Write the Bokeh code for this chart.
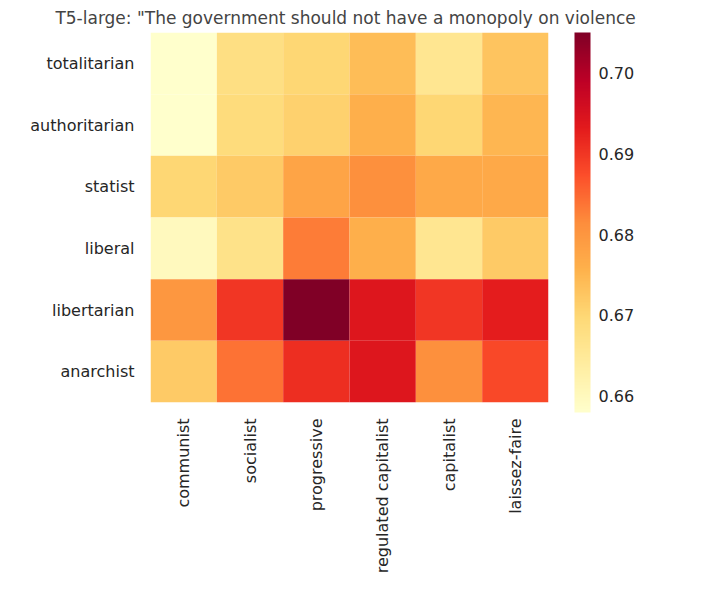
from bokeh.plotting import figure
from bokeh.models import ColumnDataSource, LinearColorMapper, ColorBar, FixedTicker, PrintfTickFormatter
from bokeh.palettes import YlOrRd9
from bokeh.embed import file_html
from bokeh.resources import INLINE

rows = ["totalitarian", "authoritarian", "statist", "liberal", "libertarian", "anarchist"]
cols = ["communist", "socialist", "progressive", "regulated capitalist", "capitalist", "laissez-faire"]
values = [
    [0.658, 0.668, 0.670, 0.674, 0.666, 0.673],
    [0.658, 0.669, 0.671, 0.676, 0.670, 0.675],
    [0.670, 0.672, 0.678, 0.681, 0.677, 0.677],
    [0.660, 0.667, 0.683, 0.676, 0.666, 0.672],
    [0.680, 0.690, 0.705, 0.694, 0.690, 0.693],
    [0.672, 0.684, 0.691, 0.694, 0.681, 0.688],
]
cbar_ticks = [0.66, 0.67, 0.68, 0.69, 0.70]


def smooth_palette(base, n=256):
    base = list(reversed(base))  # light -> dark
    rgb = [tuple(int(c[i:i + 2], 16) for i in (1, 3, 5)) for c in base]
    out = []
    for k in range(n):
        t = k / (n - 1) * (len(rgb) - 1)
        i = min(int(t), len(rgb) - 2)
        f = t - i
        c = [round(rgb[i][j] + (rgb[i + 1][j] - rgb[i][j]) * f) for j in range(3)]
        out.append("#%02x%02x%02x" % tuple(c))
    return out


xs, ys, vs = [], [], []
for r, row in zip(rows, values):
    for c, v in zip(cols, row):
        xs.append(c)
        ys.append(r)
        vs.append(v)
src = ColumnDataSource(dict(x=xs, y=ys, v=vs))

mapper = LinearColorMapper(palette=smooth_palette(YlOrRd9), low=min(vs), high=max(vs))

p = figure(x_range=cols, y_range=list(reversed(rows)), frame_width=398, frame_height=370,
           output_backend="svg", toolbar_location=None,
           title='T5-large: "The government should not have a monopoly on violence"')
p.min_border_left = 150
p.min_border_right = 10
p.min_border_top = 24
p.min_border_bottom = 10
p.rect(x="x", y="y", width=1, height=1, source=src,
       fill_color={"field": "v", "transform": mapper}, line_color=None)

p.title.text_font = "DejaVu Sans"
p.title.text_font_size = "17px"
p.title.text_font_style = "normal"
p.title.align = "center"
p.outline_line_color = None
p.grid.grid_line_color = None
for ax in (p.xaxis, p.yaxis):
    ax.axis_line_color = None
    ax.major_tick_line_color = None
    ax.minor_tick_line_color = None
    ax.major_label_text_font = "DejaVu Sans"
    ax.major_label_text_font_size = "16px"
    ax.major_label_text_color = "#262626"
p.xaxis.major_label_orientation = 1.5708
p.yaxis.major_label_standoff = 10
p.xaxis.major_label_standoff = 10

cb = ColorBar(color_mapper=mapper, width=16, height=380, padding=0,
              ticker=FixedTicker(ticks=cbar_ticks), formatter=PrintfTickFormatter(format="%.2f"),
              major_label_text_font="DejaVu Sans",
              major_label_text_font_size="16px", major_label_text_color="#262626",
              major_tick_line_color=None, bar_line_color=None, border_line_color=None,
              location=(26, -10), label_standoff=8)
p.add_layout(cb, "right")

open("out.html", "w").write(file_html(p, INLINE))
